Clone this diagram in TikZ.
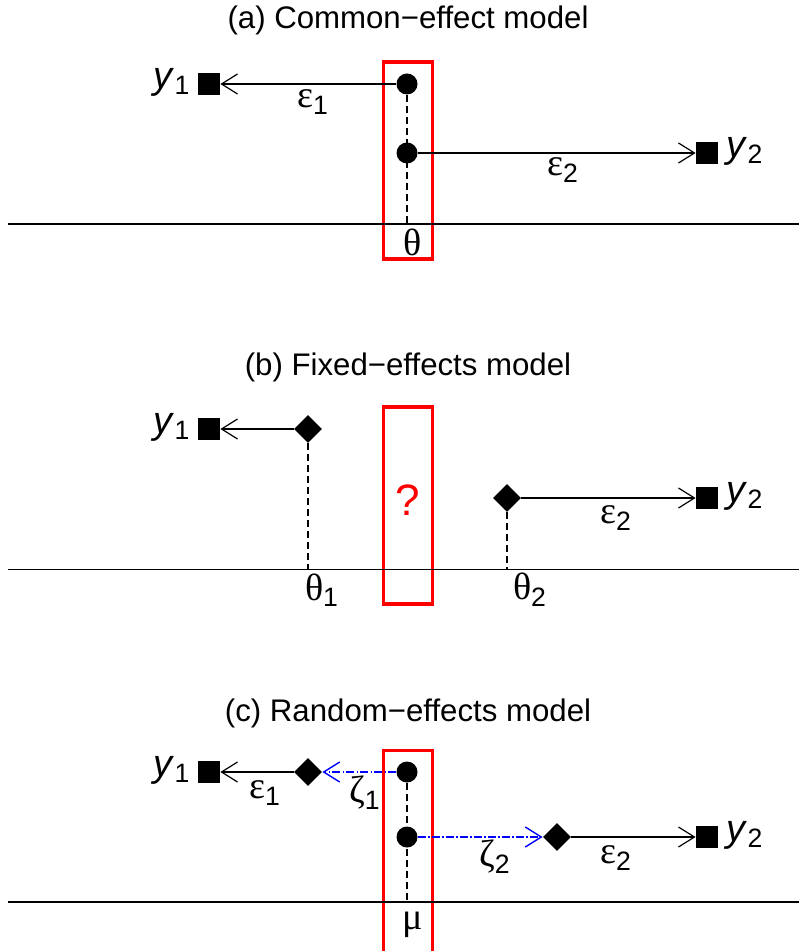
\documentclass[tikz,border=0pt]{standalone}
\usepackage{fontspec}
\setmainfont{Liberation Sans}
\newfontfamily\grk{Liberation Serif}
\usetikzlibrary{shapes.geometric, arrows.meta}

\begin{document}
\begin{tikzpicture}[
        x=0.5pt, y=-0.5pt,
        font=\fontsize{15.6}{18}\selectfont,
        % Style for the observed outcomes
        outcome/.style={fill=black, rectangle, inner sep=0pt, minimum size=11pt},
        % Style for the study effects
        study/.style={fill=black, diamond, inner sep=0pt, minimum size=14pt},
        % Style for the common / mean effect
        pooled/.style={fill=black, circle, inner sep=0pt, minimum size=10.5pt},
        % Style for the red frame
        frame/.style={draw=red, line width=1.6pt, rectangle, inner sep=0pt,
            minimum width=24.5pt, minimum height=98.5pt},
        % Styles for labels and lines
        lab/.style={font=\fontsize{19}{22}\selectfont, inner sep=0pt},
        title/.style={inner sep=0pt},
        axis/.style={line width=0.65pt},
        drop/.style={line width=0.6pt, dash pattern=on 3.5pt off 2pt},
        arrow/.style={line width=0.6pt, -{Straight Barb[length=8pt, width=10pt]}},
        barrow/.style={arrow, draw=blue, line width=0.7pt,
            dash pattern=on 4pt off 1.2pt on 0.6pt off 1.2pt}
    ]
        \useasboundingbox (0,0) rectangle (799,951);

        % (a) Common-effect model
        \node[title] (ta) at (408,20) {(a) Common−effect model};
        \node[frame] (fa) at (408,160.5) {};
        \coordinate (la) at (8,224);
        \coordinate (ra) at (799,224);
        \draw[axis] (la) -- (ra);
        \node[pooled] (ma) at (407,84) {};
        \node[pooled] (na) at (407,153) {};
        \node[outcome] (ya) at (209,84) {};
        \node[outcome] (za) at (707,153) {};
        \node[lab] (yla) at (172,82) {\textit{y}\textsubscript{1}};
        \node[lab] (zla) at (745,151) {\textit{y}\textsubscript{2}};
        \draw[drop] (ma) -- (ma |- la);
        \draw[arrow] (ma) -- (ya);
        \draw[arrow] (na) -- (za);
        \node[lab] (ea) at (313,102) {{\grk ε}\textsubscript{1}};
        \node[lab] (fa2) at (563,170) {{\grk ε}\textsubscript{2}};
        \node[lab] (tha) at (413,242) {\grk θ};

        % (b) Fixed-effects model
        \node[title] (tb) at (408,367) {(b) Fixed−effects model};
        \node[frame] (fb) at (408,505.5) {};
        \node[text=red, font=\fontsize{22}{26}\selectfont] (qb) at (408,500) {?};
        \coordinate (lb) at (8,569.5);
        \coordinate (rb) at (799,569.5);
        \draw[axis] (lb) -- (rb);
        \node[study] (sb) at (308,429) {};
        \node[study] (ub) at (507,498) {};
        \node[outcome] (yb) at (209,429) {};
        \node[outcome] (zb) at (707,498) {};
        \node[lab] (ylb) at (172,427) {\textit{y}\textsubscript{1}};
        \node[lab] (zlb) at (745,496) {\textit{y}\textsubscript{2}};
        \draw[drop] (sb) -- (sb |- lb);
        \draw[drop] (ub) -- (ub |- lb);
        \draw[arrow] (sb) -- (yb);
        \draw[arrow] (ub) -- (zb);
        \node[lab] (eb) at (616,518) {{\grk ε}\textsubscript{2}};
        \node[lab] (thb) at (322,590) {{\grk θ}\textsubscript{1}};
        \node[lab] (tub) at (530,590) {{\grk θ}\textsubscript{2}};

        % (c) Random-effects model
        \node[title] (tc) at (408,713) {(c) Random−effects model};
        \node[frame, minimum height=105pt] (fc) at (408,962) [anchor=south] {};
        \coordinate (lc) at (8,902);
        \coordinate (rc) at (799,902);
        \draw[axis] (lc) -- (rc);
        \node[pooled] (mc) at (407,772) {};
        \node[pooled] (nc) at (407,837) {};
        \node[study] (sc) at (308,772) {};
        \node[study] (uc) at (557,837) {};
        \node[outcome] (yc) at (209,772) {};
        \node[outcome] (zc) at (707,837) {};
        \node[lab] (ylc) at (172,770) {\textit{y}\textsubscript{1}};
        \node[lab] (zlc) at (745,835) {\textit{y}\textsubscript{2}};
        \draw[drop] (mc) -- (mc |- lc);
        \draw[barrow] (mc) -- (sc);
        \draw[barrow] (nc) -- (uc);
        \draw[arrow] (sc) -- (yc);
        \draw[arrow] (uc) -- (zc);
        \node[lab] (ec) at (265,793) {{\grk ε}\textsubscript{1}};
        \node[lab] (kc) at (365,793) {{\grk ζ}\textsubscript{1}};
        \node[lab] (kd) at (495,857) {{\grk ζ}\textsubscript{2}};
        \node[lab] (ed) at (616,858) {{\grk ε}\textsubscript{2}};
        \node[lab] (muc) at (413,925) {\grk μ};
\end{tikzpicture}
\end{document}
